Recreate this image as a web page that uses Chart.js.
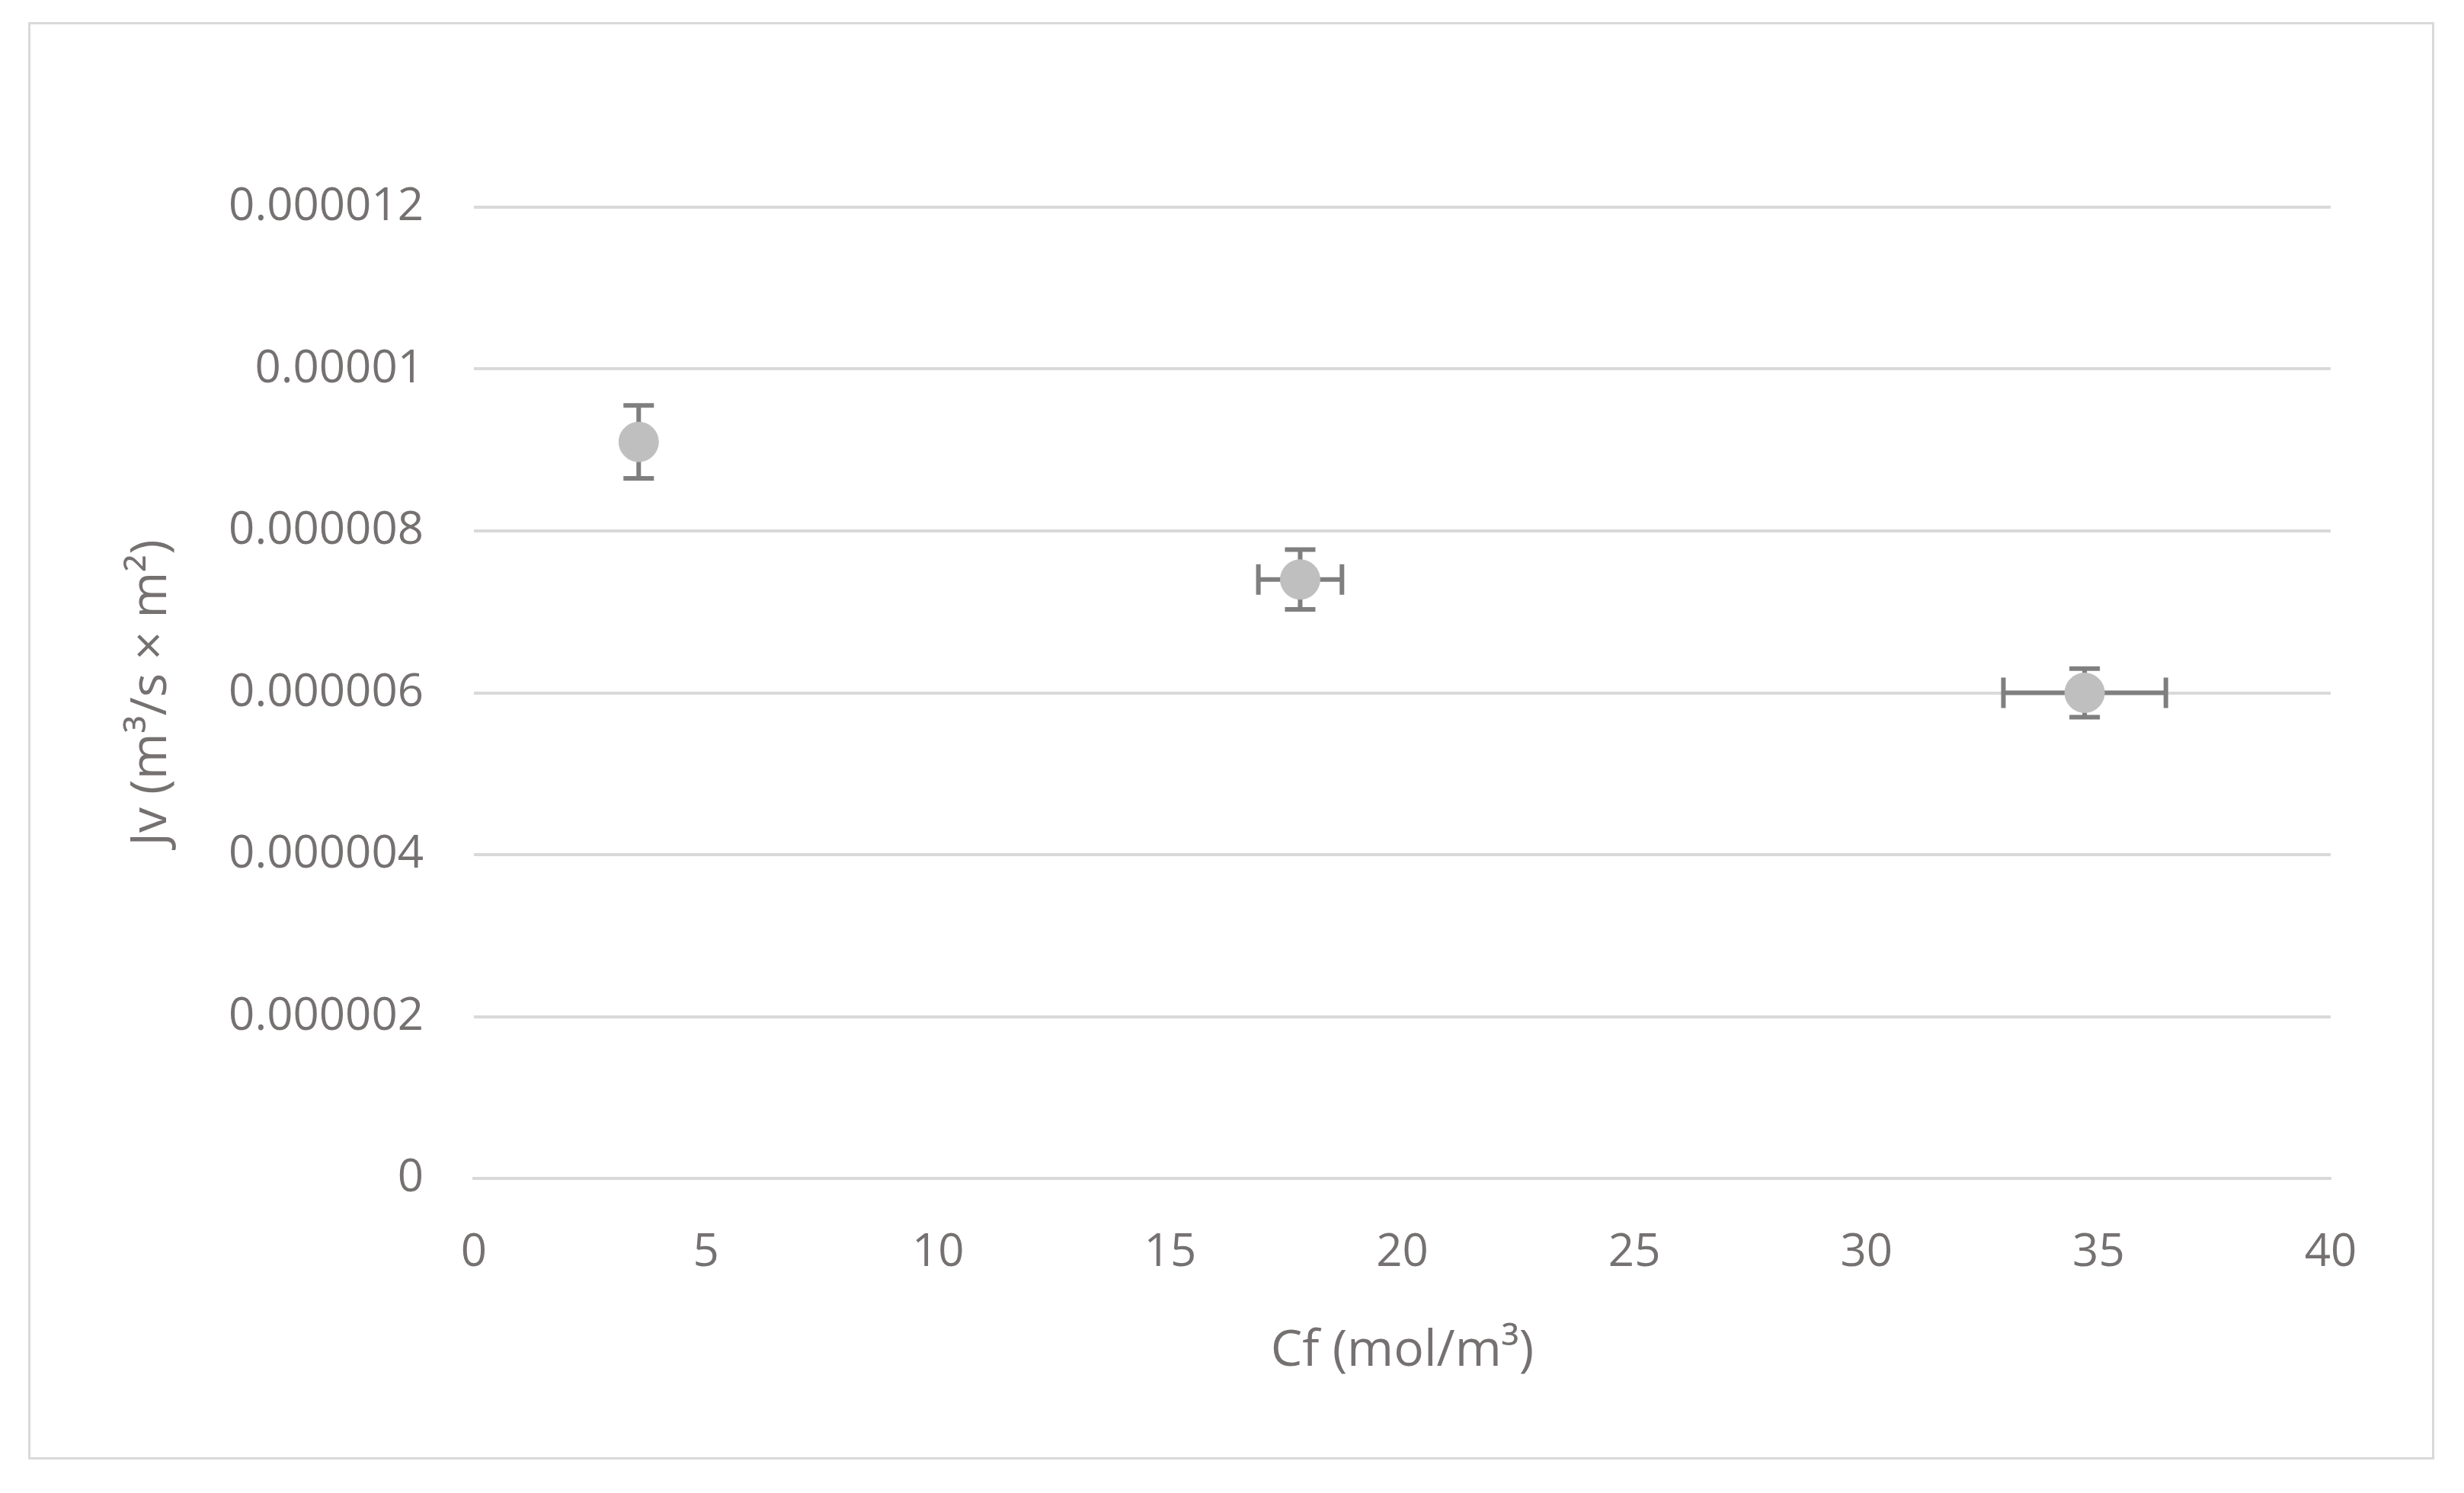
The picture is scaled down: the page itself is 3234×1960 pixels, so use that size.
<!DOCTYPE html>
<html><head><meta charset="utf-8">
<script src="https://cdn.jsdelivr.net/npm/chart.js@4"></script>
<style>html,body{margin:0;padding:0;background:#fff;width:3234px;height:1960px;overflow:hidden}
#frame{position:absolute;left:37px;top:29px;width:3158px;height:1887px;border:3px solid #d9d9d9;box-sizing:border-box}
#c{position:absolute;left:0;top:0}</style></head>
<body><div id="frame"></div><canvas id="c" width="3234" height="1960"></canvas>
<script>
const cf = [3.55, 17.8, 34.7];
const jv = [9.1e-6, 7.4e-6, 6.0e-6];
const xErr = [0, 0.9, 1.75];
const yErr = [0.45e-6, 0.37e-6, 0.3e-6];
const yTicks = ['0','0.000002','0.000004','0.000006','0.000008','0.00001','0.000012'];
const txt = '#767171', font = {family:'Open Sans', size:60};
const errPlugin = {id:'err', beforeDatasetsDraw(ch){
  const c=ch.ctx, xs=ch.scales.x, ys=ch.scales.y;
  c.save(); c.strokeStyle='#7f7f7f'; c.lineWidth=6;
  cf.forEach((x,i)=>{
    const px=xs.getPixelForValue(x), py=ys.getPixelForValue(jv[i]), cap=20;
    if(yErr[i]){const a=ys.getPixelForValue(jv[i]-yErr[i]), b=ys.getPixelForValue(jv[i]+yErr[i]);
      c.beginPath();c.moveTo(px,a);c.lineTo(px,b);c.moveTo(px-cap,a);c.lineTo(px+cap,a);c.moveTo(px-cap,b);c.lineTo(px+cap,b);c.stroke();}
    if(xErr[i]){const a=xs.getPixelForValue(x-xErr[i]), b=xs.getPixelForValue(x+xErr[i]);
      c.beginPath();c.moveTo(a,py);c.lineTo(b,py);c.moveTo(a,py-cap);c.lineTo(a,py+cap);c.moveTo(b,py-cap);c.lineTo(b,py+cap);c.stroke();}
  }); c.restore();}};
new Chart(document.getElementById('c'),{type:'scatter',
 data:{datasets:[{data:cf.map((x,i)=>({x,y:jv[i]})),backgroundColor:'#bfbfbf',borderColor:'#bfbfbf',pointRadius:26,pointHoverRadius:26}]},
 options:{responsive:false,animation:false,events:[],
  layout:{padding:{top:272,right:175,left:0,bottom:0}},
  plugins:{legend:{display:false},tooltip:{enabled:false}},
  scales:{
   x:{min:0,max:40,ticks:{stepSize:5,color:txt,font,padding:62},
      grid:{display:false,drawTicks:false},border:{color:'#d9d9d9',width:4},
      title:{display:true,text:'Cf (mol/m³)',color:txt,font:{family:'Open Sans',size:66},padding:{top:10,bottom:146}},
      afterFit(s){s.height=413;}},
   y:{min:0,max:12e-6,ticks:{stepSize:2e-6,color:txt,font,padding:66,callback:(v,i)=>yTicks[i]},
      grid:{color:'#d9d9d9',lineWidth:4,drawTicks:false},border:{display:false},
      title:{display:true,text:'Jv (m³/s × m²)',color:txt,font:{family:'Open Sans',size:66},padding:{top:160,bottom:10}},
      afterFit(s){s.width=622;}}
  }},plugins:[errPlugin]});
</script></body></html>
